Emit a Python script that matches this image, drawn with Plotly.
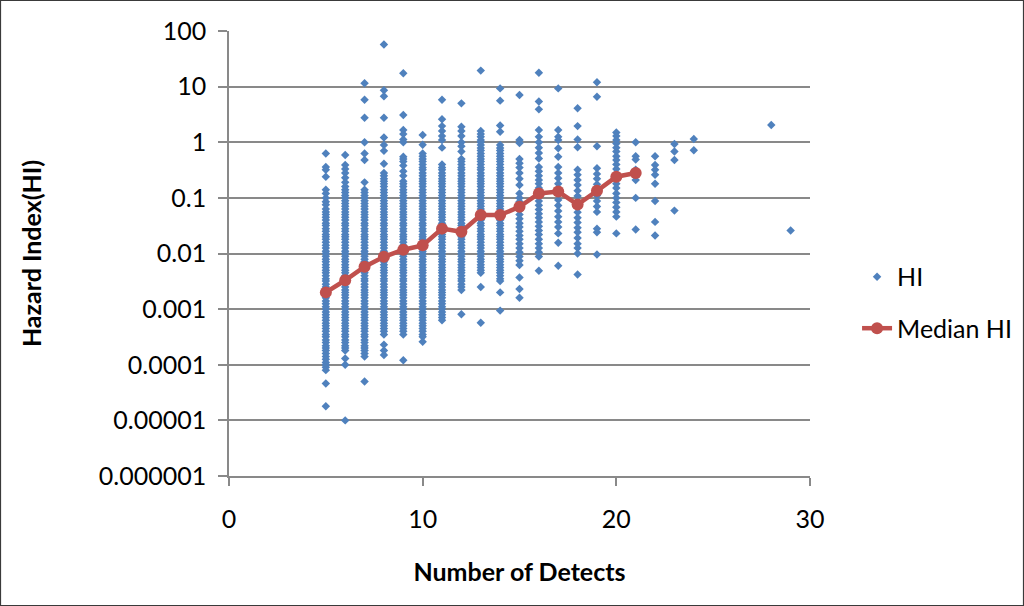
import plotly.graph_objects as go

# HI values, one list per "number of detects" column
hi_5 = [0.63, 0.36, 0.32, 0.24, 0.14, 0.12, 0.1, 0.085, 0.075,
        0.063, 0.056, 0.05, 0.045, 0.04, 0.035, 0.032, 0.028, 0.025, 0.022, 0.02, 0.018,
        0.016, 0.014, 0.0125, 0.011, 0.01,
        0.0089, 0.0079, 0.0071, 0.0063, 0.0056, 0.005, 0.0045, 0.004, 0.0035, 0.0032,
        0.0028, 0.0025, 0.0022, 0.002, 0.0018, 0.0016, 0.0014, 0.00125, 0.0011, 0.001,
        0.00089, 0.00079, 0.00071, 0.00063, 0.00056, 0.0005, 0.00045, 0.0004, 0.00035,
        0.00032, 0.00028, 0.00025, 0.00022, 0.0002, 0.00018, 0.00016, 0.00014, 0.000125,
        0.00011, 0.0001, 0.00009, 0.00008,
        0.000046, 0.000018]
hi_6 = [0.59, 0.39, 0.33, 0.28, 0.23, 0.19,
        0.16, 0.14, 0.125, 0.11, 0.1, 0.089, 0.079, 0.071,
        0.063, 0.056, 0.05, 0.045, 0.04, 0.035, 0.032, 0.028, 0.025, 0.022, 0.02, 0.018,
        0.016, 0.014, 0.0125, 0.011, 0.01,
        0.0089, 0.0079, 0.0071, 0.0063, 0.0056, 0.005, 0.0045, 0.004, 0.0035, 0.0032,
        0.0028, 0.0025, 0.0022, 0.002, 0.0018, 0.0016, 0.0014, 0.00125, 0.0011, 0.001,
        0.00089, 0.00079, 0.00071, 0.00063, 0.00056, 0.0005, 0.00045, 0.0004, 0.00035,
        0.00032, 0.00028, 0.00025, 0.00022, 0.0002, 0.00018,
        0.00013, 0.0001, 0.00001]
hi_7 = [11.5, 5.8, 2.75, 1.0, 0.63, 0.48, 0.19,
        0.14, 0.125, 0.11, 0.1, 0.089, 0.079, 0.071,
        0.063, 0.056, 0.05, 0.045, 0.04, 0.035, 0.032, 0.028, 0.025, 0.022, 0.02, 0.018,
        0.016, 0.014, 0.0125, 0.011, 0.01,
        0.0089, 0.0079, 0.0071, 0.0063, 0.0056, 0.005, 0.0045, 0.004, 0.0035, 0.0032,
        0.0028, 0.0025, 0.0022, 0.002, 0.0018, 0.0016, 0.0014, 0.00125, 0.0011, 0.001,
        0.00089, 0.00079, 0.00071, 0.00063, 0.00056, 0.0005, 0.00045, 0.0004, 0.00035,
        0.00032, 0.00028, 0.00025, 0.00022, 0.0002, 0.00018, 0.00016, 0.00014,
        0.00005]
hi_8 = [57, 8.6, 6.7, 2.75, 1.22, 0.89, 0.7, 0.41,
        0.28, 0.25, 0.22, 0.2, 0.18, 0.16, 0.14, 0.125, 0.11, 0.1,
        0.089, 0.079, 0.071, 0.063, 0.056, 0.05, 0.045, 0.04, 0.035, 0.032, 0.028, 0.025,
        0.022, 0.02, 0.018, 0.016, 0.014, 0.0125, 0.011, 0.01,
        0.0089, 0.0079, 0.0071, 0.0063, 0.0056, 0.005, 0.0045, 0.004, 0.0035, 0.0032,
        0.0028, 0.0025, 0.0022, 0.002, 0.0018, 0.0016, 0.0014, 0.00125, 0.0011, 0.001,
        0.00089, 0.00079, 0.00071, 0.00063, 0.00056, 0.0005, 0.00045, 0.0004, 0.00035,
        0.00023, 0.00018, 0.00015]
hi_9 = [17.4, 3.1, 1.66, 1.4, 1.12, 1.0, 0.55, 0.5, 0.45, 0.38, 0.3, 0.25,
        0.2, 0.18, 0.16, 0.14, 0.125, 0.11, 0.1,
        0.089, 0.079, 0.071, 0.063, 0.056, 0.05, 0.045, 0.04, 0.035, 0.032, 0.028, 0.025,
        0.022, 0.02, 0.018, 0.016, 0.014, 0.0125, 0.011, 0.01,
        0.0089, 0.0079, 0.0071, 0.0063, 0.0056, 0.005, 0.0045, 0.004, 0.0035, 0.0032,
        0.0028, 0.0025, 0.0022, 0.002, 0.0018, 0.0016, 0.0014, 0.00125, 0.0011, 0.001,
        0.00089, 0.00079, 0.00071, 0.00063, 0.00056, 0.0005, 0.00045, 0.0004, 0.00035,
        0.00012]
hi_10 = [1.35, 0.9,
         0.63, 0.56, 0.5, 0.45, 0.4, 0.35, 0.32, 0.28, 0.25, 0.22, 0.2, 0.18, 0.16, 0.14,
         0.125, 0.11, 0.1,
         0.089, 0.079, 0.071, 0.063, 0.056, 0.05, 0.045, 0.04, 0.035, 0.032, 0.028, 0.025,
         0.022, 0.02, 0.018, 0.016, 0.014, 0.0125, 0.011, 0.01,
         0.0089, 0.0079, 0.0071, 0.0063, 0.0056, 0.005, 0.0045, 0.004, 0.0035, 0.0032,
         0.0028, 0.0025, 0.0022, 0.002, 0.0018, 0.0016, 0.0014, 0.00125, 0.0011, 0.001,
         0.00089, 0.00079, 0.00071, 0.00063, 0.00056, 0.0005, 0.00045, 0.0004, 0.00035,
         0.00032, 0.00026]
hi_11 = [5.8, 2.6, 1.95, 1.6, 1.3, 1.1, 0.8,
         0.4, 0.35, 0.32, 0.28, 0.25, 0.22, 0.2, 0.18, 0.16, 0.14, 0.125, 0.11, 0.1,
         0.089, 0.079, 0.071, 0.063, 0.056, 0.05, 0.045, 0.04, 0.035, 0.032, 0.028, 0.025,
         0.022, 0.02, 0.018, 0.016, 0.014, 0.0125, 0.011, 0.01,
         0.0089, 0.0079, 0.0071, 0.0063, 0.0056, 0.005, 0.0045, 0.004, 0.0035, 0.0032,
         0.0028, 0.0025, 0.0022, 0.002, 0.0018, 0.0016, 0.0014, 0.00125, 0.0011, 0.001,
         0.00089, 0.00079, 0.00071, 0.00063]
hi_12 = [5.0, 1.9, 1.6, 1.3, 1.0, 0.85, 0.68,
         0.5, 0.45, 0.4, 0.35, 0.32, 0.28, 0.25, 0.22, 0.2, 0.18, 0.16, 0.14, 0.125, 0.11,
         0.1,
         0.089, 0.079, 0.071, 0.063, 0.056, 0.05, 0.045, 0.04, 0.035, 0.032, 0.028, 0.025,
         0.022, 0.02, 0.018, 0.016, 0.014, 0.0125, 0.011, 0.01,
         0.0089, 0.0079, 0.0071, 0.0063, 0.0056, 0.005, 0.0045, 0.004, 0.0035, 0.0032,
         0.0028, 0.0025, 0.0022,
         0.00081]
hi_13 = [19.4,
         1.6, 1.4, 1.25, 1.1, 1.0,
         0.89, 0.79, 0.71, 0.63, 0.56, 0.5, 0.45, 0.4, 0.35, 0.32, 0.28, 0.25, 0.22, 0.2,
         0.18, 0.16, 0.14, 0.125, 0.11, 0.1,
         0.089, 0.079, 0.071, 0.063, 0.056, 0.05, 0.045, 0.04, 0.035, 0.032, 0.028, 0.025,
         0.022, 0.02, 0.018, 0.016, 0.014, 0.0125, 0.011, 0.01,
         0.0089, 0.0079, 0.0071, 0.0063, 0.0056, 0.005, 0.0045,
         0.0025, 0.00057]
hi_14 = [9.3, 5.6, 2.0, 1.55,
         0.89, 0.79, 0.71, 0.63, 0.56, 0.5, 0.45, 0.4, 0.35, 0.32, 0.28, 0.25, 0.22, 0.2,
         0.18, 0.16, 0.14, 0.125, 0.11, 0.1,
         0.089, 0.079, 0.071, 0.063, 0.056, 0.05, 0.045, 0.04, 0.035, 0.032, 0.028, 0.025,
         0.022, 0.02, 0.018, 0.016, 0.014, 0.0125, 0.011, 0.01,
         0.0089, 0.0079, 0.0071, 0.0063, 0.0056, 0.005, 0.0045, 0.004, 0.0035, 0.0032,
         0.002, 0.00094]
hi_15 = [7.1, 1.1, 0.97, 0.5, 0.42, 0.35, 0.28, 0.22, 0.17,
         0.12, 0.1, 0.085, 0.072, 0.06, 0.05, 0.042, 0.035, 0.03, 0.025, 0.021, 0.018,
         0.015, 0.0125, 0.0105, 0.0088, 0.0074, 0.0062,
         0.0037, 0.0023, 0.0016]
hi_16 = [17.8, 5.4, 3.9, 1.66, 1.25, 1.0, 0.8, 0.64, 0.51,
         0.36, 0.3, 0.25, 0.21, 0.18, 0.15, 0.125, 0.105, 0.088, 0.074, 0.062, 0.052,
         0.044, 0.037, 0.031, 0.026, 0.022, 0.018, 0.015, 0.0125, 0.0105, 0.0088,
         0.0049]
hi_17 = [9.3, 1.66, 1.25, 1.1, 0.78, 0.55, 0.36,
         0.28, 0.225, 0.18, 0.145, 0.115, 0.092, 0.073, 0.058, 0.046, 0.037, 0.03, 0.023,
         0.0156, 0.006]
hi_18 = [4.1, 1.95, 1.12, 0.81,
         0.32, 0.26, 0.21, 0.17, 0.135, 0.108, 0.086, 0.069, 0.055, 0.044, 0.036, 0.029,
         0.024, 0.019, 0.015, 0.0125, 0.01,
         0.0042]
hi_19 = [12, 6.6, 0.85,
         0.34, 0.27, 0.22, 0.175, 0.14, 0.11, 0.088, 0.07, 0.056,
         0.028, 0.024, 0.0096]
hi_20 = [1.5, 1.3, 1.1, 0.95, 0.8, 0.68, 0.56, 0.48, 0.4, 0.33, 0.27, 0.22, 0.18,
         0.15, 0.12, 0.1, 0.083, 0.068, 0.056, 0.046, 0.023]
hi_21 = [1.0, 0.56, 0.49, 0.32, 0.28, 0.26, 0.21, 0.1, 0.027]
hi_22 = [0.56, 0.39, 0.32, 0.26, 0.18, 0.088, 0.037, 0.021]
hi_23 = [0.93, 0.68, 0.48, 0.059]
hi_24 = [1.14, 0.72]
hi_28 = [2.04]
hi_29 = [0.026]

detect_cols = [5, 6, 7, 8, 9, 10, 11, 12, 13, 14, 15, 16, 17, 18, 19, 20, 21, 22, 23, 24, 28, 29]
hi_cols = [hi_5, hi_6, hi_7, hi_8, hi_9, hi_10, hi_11, hi_12, hi_13, hi_14, hi_15,
           hi_16, hi_17, hi_18, hi_19, hi_20, hi_21, hi_22, hi_23, hi_24, hi_28, hi_29]

median_x = [5, 6, 7, 8, 9, 10, 11, 12, 13, 14, 15, 16, 17, 18, 19, 20, 21]
median_hi = [0.0020, 0.0033, 0.0058, 0.0087, 0.0117, 0.014, 0.028, 0.0246, 0.049,
             0.049, 0.069, 0.12, 0.13, 0.076, 0.134, 0.24, 0.28]

y_ticks = [0.000001, 0.00001, 0.0001, 0.001, 0.01, 0.1, 1, 10, 100]
y_labels = ["0.000001", "0.00001", "0.0001", "0.001", "0.01", "0.1", "1", "10", "100"]

xs, ys = [], []
for d, vals in zip(detect_cols, hi_cols):
    xs += [d] * len(vals)
    ys += vals

FONT = "Lato"
GRID = "#898989"

fig = go.Figure()
fig.add_trace(go.Scatter(
    x=xs, y=ys, mode="markers", name="HI",
    marker=dict(symbol="diamond", size=6.5, color="#4F81BD"),
    legendgroup="a",
))
fig.add_trace(go.Scatter(
    x=median_x, y=median_hi, mode="lines+markers", name="Median HI",
    line=dict(color="#C0504D", width=4.5),
    marker=dict(symbol="circle", size=12, color="#C0504D"),
    legendgroup="b",
))

L, R, T, B = 229, 214, 31, 130
pw, ph = 1024 - L - R, 606 - T - B

fig.update_layout(
    width=1024, height=606,
    margin=dict(l=L, r=R, t=T, b=B, autoexpand=False),
    paper_bgcolor="white", plot_bgcolor="white",
    font=dict(family=FONT, size=25, color="black"),
    showlegend=True,
    legend=dict(x=1.081, y=0.39, xanchor="left", yanchor="middle",
                font=dict(size=25), tracegroupgap=16, bgcolor="rgba(0,0,0,0)"),
    xaxis=dict(
        range=[0, 30], dtick=10, showgrid=False, zeroline=False,
        showline=True, linecolor=GRID, linewidth=1.5,
        ticks="outside", ticklen=8, tickcolor=GRID, tickwidth=1.5,
        ticklabelstandoff=12,
        title=dict(text="<b>Number of Detects</b>", standoff=32,
                   font=dict(size=25)),
    ),
    yaxis=dict(
        type="log", range=[-6, 2], tickvals=y_ticks, ticktext=y_labels,
        showgrid=True, gridcolor=GRID, gridwidth=1.5, zeroline=False,
        showline=True, linecolor=GRID, linewidth=1.5,
        ticks="outside", ticklen=9, tickcolor=GRID, tickwidth=1.5,
        ticklabelstandoff=7,
        title=dict(text="<b>Hazard Index(HI)</b>", standoff=50,
                   font=dict(size=25)),
    ),
    shapes=[dict(
        type="rect", xref="paper", yref="paper",
        x0=-(L - 0.5) / pw, x1=(1023.5 - L) / pw,
        y0=-(B - 0.5) / ph, y1=(606 - 0.5 - B) / ph,
        line=dict(color="#3a3a3a", width=1.2), layer="above",
    )],
)

fig.write_html("out.html", config={"displayModeBar": False},
               post_script="document.body.style.margin='0';")
